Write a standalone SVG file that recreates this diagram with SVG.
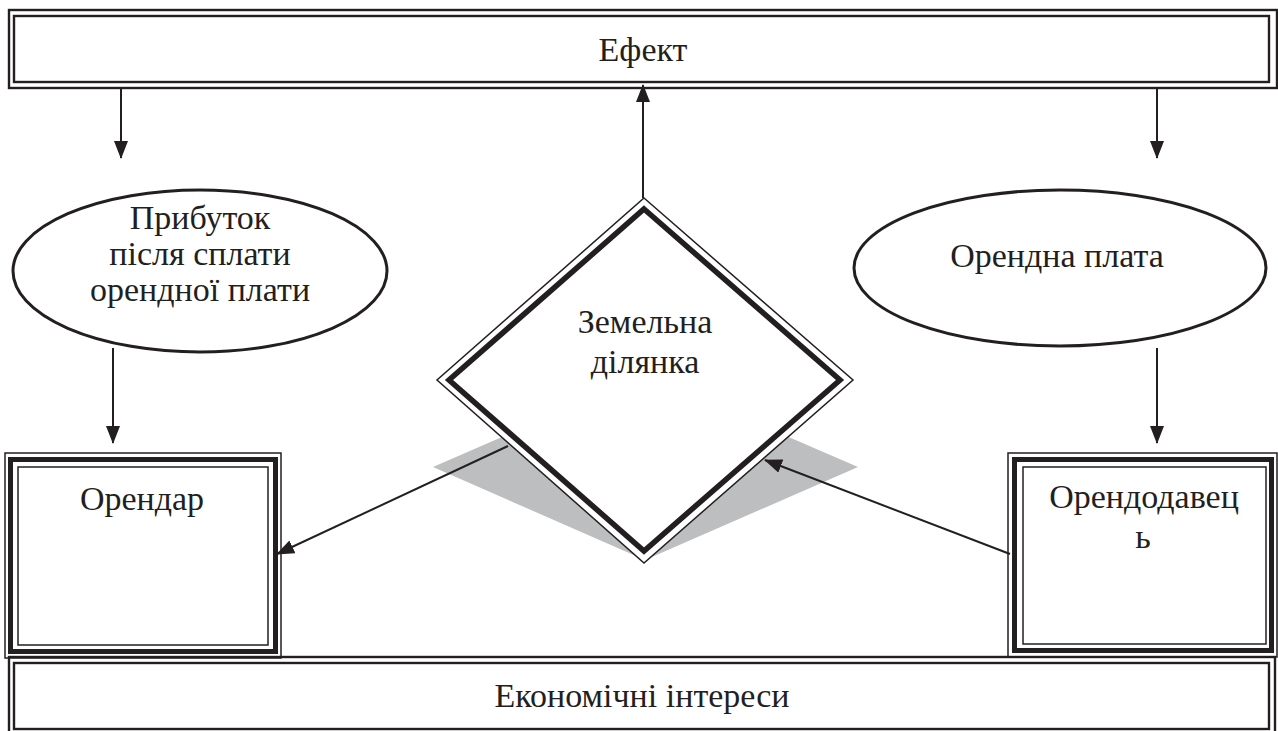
<svg xmlns="http://www.w3.org/2000/svg" width="1278" height="731" viewBox="0 0 1278 731">
<style>
.t{font-family:"Liberation Serif","DejaVu Serif","Noto Serif","Times New Roman",serif;font-size:34px;fill:#231f20;text-anchor:middle}
.b{fill:none;stroke:#231f20;stroke-width:2.4}
.thin{fill:none;stroke:#231f20;stroke-width:1.5}
.thick{fill:none;stroke:#231f20;stroke-width:5}
.ell{fill:#fff;stroke:#231f20;stroke-width:3}
.c{stroke:#231f20;stroke-width:2;fill:none}
</style>
<defs>
<marker id="ah" viewBox="0 0 18 14" refX="17" refY="7" markerWidth="18" markerHeight="14" markerUnits="userSpaceOnUse" orient="auto">
<path d="M0,0 L18,7 L0,14 Z" fill="#231f20"/>
</marker>
</defs>
<rect width="1278" height="731" fill="#fff"/>

<g id="effect">
<rect class="b" x="9" y="10" width="1268" height="78"/>
<rect class="b" x="14" y="16" width="1255" height="66"/>
<text class="t" x="643" y="61">Ефект</text>
</g>

<g id="economic">
<rect class="b" x="9" y="657" width="1266" height="80"/>
<rect class="b" x="14" y="663" width="1255" height="66"/>
<text class="t" x="642" y="707">Економічні інтереси</text>
</g>

<g id="profit">
<ellipse class="ell" cx="200" cy="271" rx="187" ry="81"/>
<text class="t" x="200" y="229">Прибуток</text>
<text class="t" x="200" y="265">після сплати</text>
<text class="t" x="200" y="301">орендної плати</text>
</g>

<g id="rent">
<ellipse class="ell" cx="1060" cy="268" rx="206" ry="78"/>
<text class="t" x="1057" y="267">Орендна плата</text>
</g>

<g id="land">
<polygon points="645,375 858,467 645,560 433,467" fill="#bcbec0"/>
<polygon points="644,198 853,380 644,563 437,380" fill="#fff" stroke="#231f20" stroke-width="1.5"/>
<polygon points="644,209 840,380 644,551 449,380" fill="none" stroke="#231f20" stroke-width="5.5"/>
<text class="t" x="645" y="333">Земельна</text>
<text class="t" x="645" y="373">ділянка</text>
</g>

<g id="tenant">
<rect class="thin" x="5" y="453" width="276" height="205"/>
<rect class="thick" x="10.5" y="459.5" width="265" height="192"/>
<rect class="thin" x="18" y="467" width="250" height="178"/>
<text class="t" x="142" y="510">Орендар</text>
</g>

<g id="landlord">
<rect class="thin" x="1008" y="453" width="269" height="204"/>
<rect class="thick" x="1014.5" y="459.5" width="257" height="191"/>
<rect class="thin" x="1023" y="467" width="243" height="177"/>
<text class="t" x="1144" y="508">Орендодавец</text>
<text class="t" x="1143" y="548">ь</text>
</g>

<g id="connectors">
<line class="c" x1="121" y1="88" x2="121" y2="158" marker-end="url(#ah)"/>
<line class="c" x1="1157" y1="88" x2="1157" y2="158" marker-end="url(#ah)"/>
<line class="c" x1="643" y1="198" x2="643" y2="85" marker-end="url(#ah)"/>
<line class="c" x1="113" y1="348" x2="113" y2="443" marker-end="url(#ah)"/>
<line class="c" x1="1157" y1="348" x2="1157" y2="443" marker-end="url(#ah)"/>
<line class="c" x1="508" y1="446" x2="277" y2="554" marker-end="url(#ah)"/>
<line class="c" x1="1010" y1="554" x2="765" y2="460" marker-end="url(#ah)"/>
</g>
</svg>
